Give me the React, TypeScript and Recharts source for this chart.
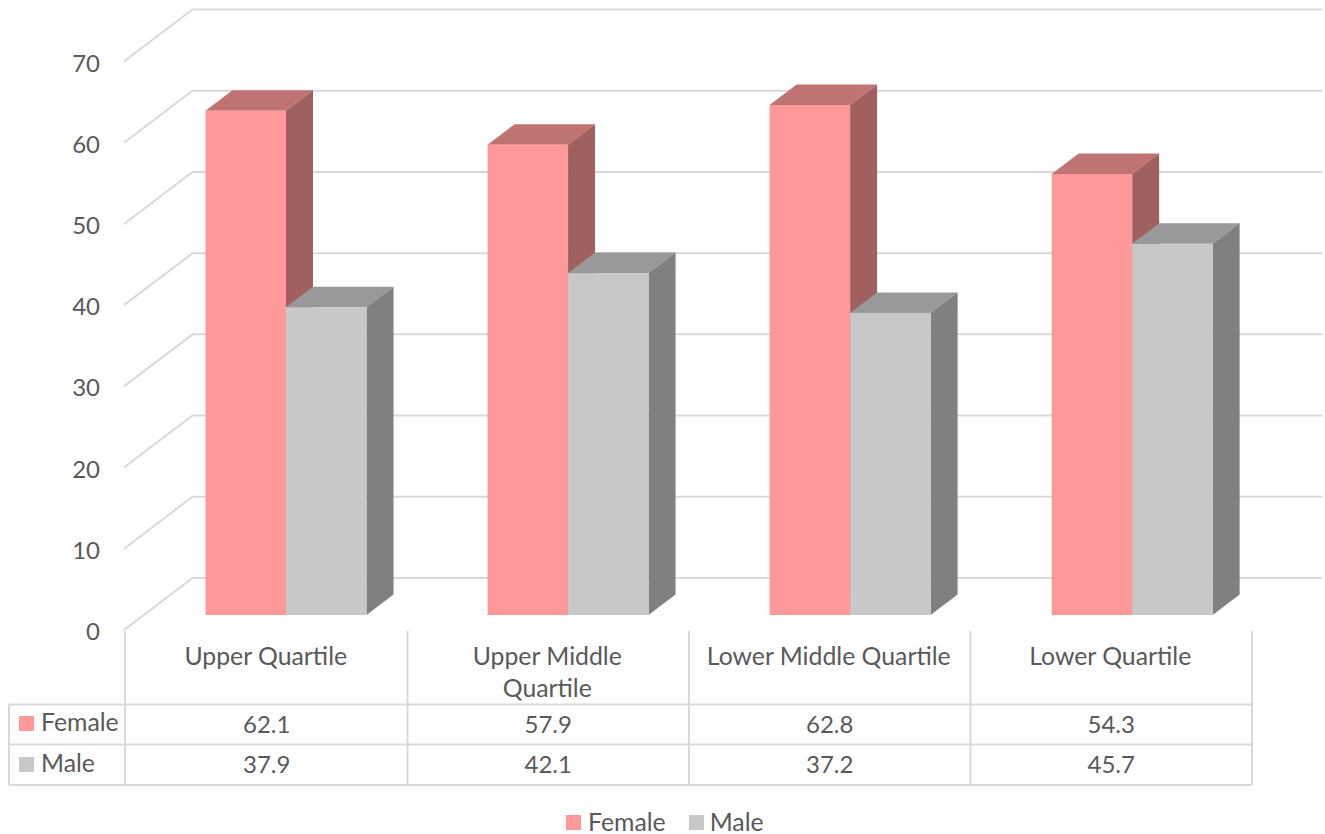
import { BarChart, Bar, XAxis, YAxis, CartesianGrid, Legend } from 'recharts'

const categories = ['Upper Quartile', 'Upper Middle Quartile', 'Lower Middle Quartile', 'Lower Quartile']
const femaleValues = [62.1, 57.9, 62.8, 54.3]
const maleValues = [37.9, 42.1, 37.2, 45.7]
const yTicks = [0, 10, 20, 30, 40, 50, 60, 70]
const seriesNames = ['Female', 'Male']

const FONT = 'Lato, sans-serif'
const TEXT = '#595959'
const GRID = '#D9D9D9'
const FEMALE = { front: '#FF9999', top: '#BF7373', side: '#A06060' }
const MALE = { front: '#C8C8C8', top: '#999999', side: '#808080' }

// the 3d depth of the bars and of the wall behind them
const DX = 27
const DY = 20.5

const data = categories.map((name, i) => ({ name, female: femaleValues[i], male: maleValues[i] }))

function wrapLabel(s: string): string[] {
  return s === 'Upper Middle Quartile' ? ['Upper Middle', 'Quartile'] : [s]
}

function Bar3D(props: any) {
  const { x, y, width, height, colors, index } = props
  // bars sit further back than the table, so they drift slightly against its columns
  const left = x + 19.5 + index * 0.55
  const right = left + width
  const bottom = y + height
  return (
    <g>
      <polygon
        points={`${left},${y} ${left + DX},${y - DY} ${right + DX},${y - DY} ${right},${y}`}
        fill={colors.top}
      />
      <polygon
        points={`${right},${y} ${right + DX},${y - DY} ${right + DX},${bottom - DY} ${right},${bottom}`}
        fill={colors.side}
      />
      <rect x={left} y={y} width={width} height={height} fill={colors.front} />
    </g>
  )
}

function GridLine(props: any) {
  const y = props.y1
  return (
    <polyline
      points={`124,${y + 15} 192.5,${y - 37} 1322,${y - 37}`}
      fill="none"
      stroke={GRID}
      strokeWidth={2}
    />
  )
}

function YTick(props: any) {
  const { y, payload } = props
  return (
    <text x={100} y={y + 25} textAnchor="end" fontSize={24} fontFamily={FONT} fill={TEXT}>
      {payload.value}
    </text>
  )
}

// every column of the data table hangs off its category tick
function TableColumn(props: any) {
  const { x, payload, index } = props
  const lines = wrapLabel(payload.value)
  const half = 281.5 / 2
  const cellText = { textAnchor: 'middle', fontSize: 24, fontFamily: FONT, fill: TEXT } as const
  return (
    <g>
      <line x1={x + half} y1={631} x2={x + half} y2={785} stroke={GRID} strokeWidth={2} />
      {lines.map((line, i) => (
        <text key={line} x={x - 1} y={665 + i * 32} {...cellText} fontSize={24.8}>
          {line}
        </text>
      ))}
      <text x={x} y={733} {...cellText}>{femaleValues[index]}</text>
      <text x={x} y={773} {...cellText}>{maleValues[index]}</text>
    </g>
  )
}

function TableFrame() {
  const rowText = { fontSize: 24.8, fontFamily: FONT, fill: TEXT } as const
  return (
    <g>
      <line x1={125} y1={631} x2={125} y2={785} stroke={GRID} strokeWidth={2} />
      <line x1={9} y1={704.5} x2={9} y2={785} stroke={GRID} strokeWidth={2} />
      {[704.5, 744.5, 785].map((y) => (
        <line key={y} x1={9} y1={y} x2={1252} y2={y} stroke={GRID} strokeWidth={2} />
      ))}
      <rect x={19} y={716} width={15} height={15} fill={FEMALE.front} />
      <text x={41} y={731} {...rowText}>{seriesNames[0]}</text>
      <rect x={19} y={757} width={15} height={15} fill={MALE.front} />
      <text x={41} y={772} {...rowText}>{seriesNames[1]}</text>
    </g>
  )
}

function ChartLegend() {
  const swatch = { display: 'inline-block', width: 15, height: 15, marginRight: 7 }
  return (
    <div style={{ display: 'flex', alignItems: 'center', fontFamily: FONT, fontSize: 24.8, color: TEXT, lineHeight: '28px' }}>
      <span style={{ ...swatch, background: FEMALE.front }} />
      <span style={{ marginRight: 23 }}>{seriesNames[0]}</span>
      <span style={{ ...swatch, background: MALE.front, marginRight: 6 }} />
      <span>{seriesNames[1]}</span>
    </div>
  )
}

export default function App() {
  return (
    <div style={{ position: 'absolute', left: 0, top: 0, width: 1325, height: 834, background: '#fff' }}>
      <BarChart
        width={1325}
        height={834}
        data={data}
        margin={{ top: 46.5, right: 73, bottom: 189, left: 0 }}
        barSize={80.5}
        barGap={0}
      >
        <CartesianGrid vertical={false} horizontal={(p: any) => <GridLine key={p.key} {...p} />} />
        <XAxis dataKey="name" height={30} axisLine={false} tickLine={false} interval={0} tick={TableColumn} />
        <YAxis width={126} domain={[0, 70]} ticks={yTicks} axisLine={false} tickLine={false} tick={YTick} />
        <Legend
          verticalAlign="middle"
          content={ChartLegend}
          wrapperStyle={{ top: 808, left: 566, width: 220 }}
        />
        <TableFrame />
        <Bar
          dataKey="female"
          name={seriesNames[0]}
          fill={FEMALE.front}
          isAnimationActive={false}
          shape={(p: any) => <Bar3D {...p} colors={FEMALE} />}
        />
        <Bar
          dataKey="male"
          name={seriesNames[1]}
          fill={MALE.front}
          isAnimationActive={false}
          shape={(p: any) => <Bar3D {...p} colors={MALE} />}
        />
      </BarChart>
    </div>
  )
}
